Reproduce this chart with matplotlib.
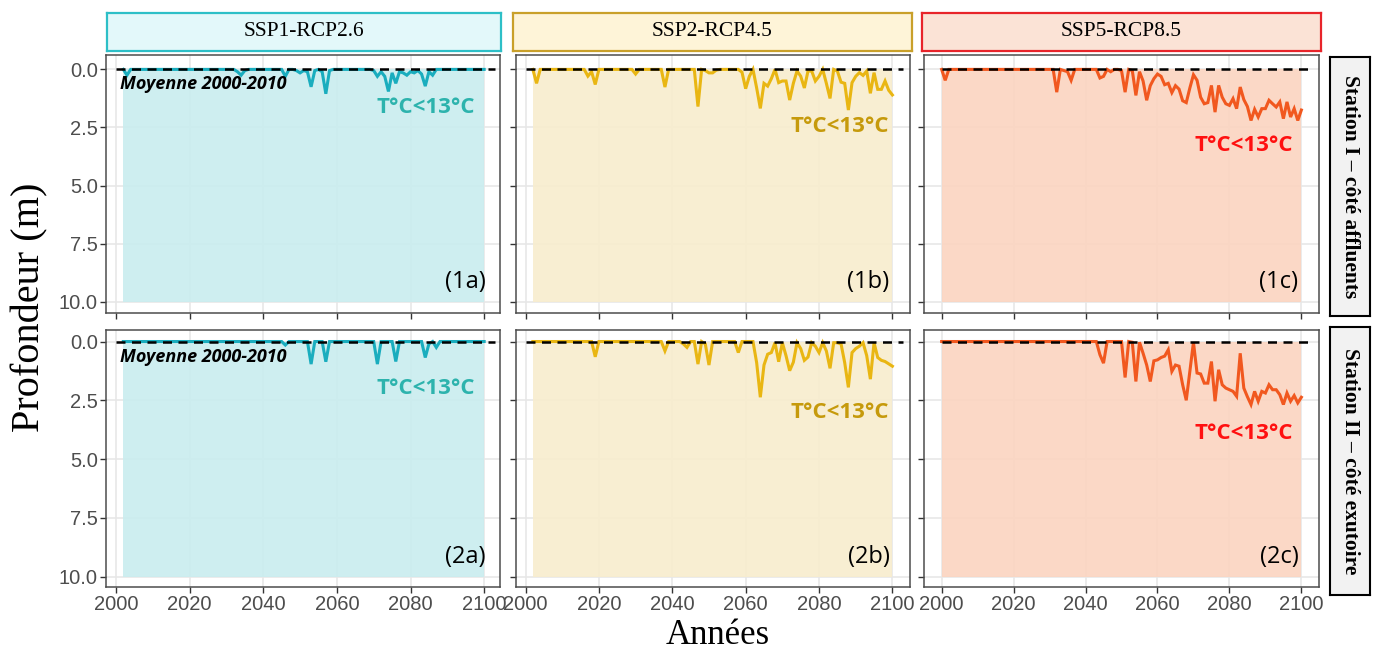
import matplotlib
matplotlib.use("Agg")
import matplotlib.pyplot as plt
import numpy as np

# ---- data (depth in m of the T<13°C layer top, per year) ----
years_a = list(range(2002, 2101))
years_b = list(range(2002, 2101))
years_c = list(range(2000, 2101))

depth_1a = [0, 0.25, 0, 0, 0, 0, 0, 0,
            0, 0, 0, 0, 0, 0, 0, 0, 0, 0,
            0, 0, 0, 0, 0, 0, 0, 0, 0, 0,
            0, 0, 0, 0.1, 0.25, 0.05, 0, 0, 0, 0,
            0, 0, 0, 0, 0, 0, 0.3, 0, 0, 0.05,
            0.15, 0.05, 0.1, 0.75, 0.05, 0, 0.1, 1.05, 0.05, 0,
            0, 0, 0, 0, 0, 0, 0, 0, 0, 0,
            0.05, 0.3, 0.1, 0.3, 0.95, 0.15, 0.6, 0.1, 0.15, 0.25,
            0.1, 0.15, 0.05, 0.2, 0.72, 0.1, 0.25, 0, 0, 0,
            0, 0, 0, 0, 0, 0, 0, 0, 0, 0,
            0]
depth_2a = [0, 0, 0, 0, 0, 0, 0, 0,
            0, 0, 0, 0, 0, 0, 0, 0, 0, 0,
            0, 0, 0, 0, 0, 0, 0, 0, 0, 0,
            0, 0, 0, 0, 0, 0, 0, 0, 0, 0,
            0, 0, 0, 0, 0, 0, 0.15, 0, 0, 0,
            0, 0, 0, 0.96, 0, 0, 0, 0.86, 0, 0,
            0, 0, 0, 0, 0, 0, 0, 0, 0, 0,
            0, 0.96, 0, 0, 0, 0, 0.85, 0, 0, 0,
            0, 0, 0, 0, 0.68, 0.1, 0, 0.25, 0, 0,
            0, 0, 0, 0, 0, 0, 0, 0, 0, 0,
            0]
depth_1b = [0, 0.6, 0, 0, 0, 0, 0, 0,
            0, 0, 0, 0, 0, 0, 0, 0.29, 0.1, 0.65,
            0, 0, 0, 0, 0, 0, 0, 0, 0, 0,
            0.2, 0, 0, 0, 0, 0, 0, 0, 0.76, 0,
            0, 0, 0, 0, 0, 0, 0, 1.6, 0, 0.05,
            0.15, 0.15, 0.03, 0, 0, 0, 0, 0, 0, 0.12,
            0.83, 0.3, 0, 0.8, 1.68, 0.6, 0.72, 0.4, 0, 0.57,
            0.5, 0.5, 1.32, 0.6, 0.07, 0.29, 0.8, 0.07, 0.07, 0.5,
            0.3, 0, 0.6, 1.25, 0, 0.07, 0.55, 0.6, 1.75, 0.57,
            0.3, 0.14, 0.26, 0.07, 1.03, 0.14, 0.86, 0.86, 0.5, 0.9,
            1.1]
depth_2b = [0, 0, 0, 0, 0, 0, 0, 0,
            0, 0, 0, 0, 0, 0, 0, 0, 0, 0.65,
            0, 0, 0, 0, 0, 0, 0, 0, 0, 0,
            0, 0, 0, 0, 0, 0, 0, 0, 0.4, 0,
            0, 0, 0, 0.1, 0.25, 0, 0, 0.96, 0, 0.1,
            1.0, 0, 0, 0, 0, 0, 0, 0, 0.47, 0,
            0, 0, 0, 0.9, 2.37, 1.0, 0.54, 0.47, 0.05, 0.86,
            0.05, 0.6, 1.24, 0.88, 0.05, 0.3, 0.8, 0.66, 0.05, 0.2,
            0.47, 0.05, 0.4, 1.14, 0.05, 0.05, 0.1, 0.9, 1.95, 0.47,
            0.3, 0.2, 0.05, 0.6, 1.6, 0.05, 0.68, 0.8, 0.85, 0.95,
            1.05]
depth_1c = [0, 0.47, 0, 0, 0, 0, 0, 0, 0, 0,
            0, 0, 0, 0, 0, 0, 0, 0, 0, 0,
            0, 0, 0, 0, 0, 0, 0, 0, 0, 0,
            0, 0, 0.98, 0, 0.05, 0.1, 0.47, 0, 0, 0,
            0, 0, 0, 0, 0.37, 0.3, 0, 0.1, 0, 0,
            0.05, 0.98, 0, 0.05, 1.12, 0.1, 0.5, 1.33, 0.7, 0.4,
            0.2, 0.3, 0.66, 0.6, 1.0, 0.7, 0.85, 1.35, 1.43, 0.8,
            0.23, 0.47, 1.2, 1.48, 1.43, 0.69, 1.84, 0.69, 1.2, 1.48,
            1.55, 1.26, 1.69, 0.76, 1.3, 1.6, 2.2, 1.72, 2.05, 1.69,
            1.69, 1.33, 1.48, 1.62, 1.4, 2.12, 1.4, 2.05, 1.69, 2.2,
            1.75]
depth_2c = [0, 0, 0, 0, 0, 0, 0, 0, 0, 0,
            0, 0, 0, 0, 0, 0, 0, 0, 0, 0,
            0, 0, 0, 0, 0, 0, 0, 0, 0, 0,
            0, 0, 0, 0, 0, 0, 0, 0, 0, 0,
            0, 0, 0, 0, 0.56, 0.92, 0, 0, 0, 0,
            0, 1.53, 0, 0.03, 1.7, 0.03, 0.5, 1.0, 1.7, 0.82,
            0.78, 0.68, 0.62, 0.35, 1.27, 1.0, 1.05, 1.84, 2.5, 1.27,
            0.03, 1.34, 1.38, 1.77, 1.77, 0.85, 2.54, 1.2, 1.84, 1.98,
            2.05, 2.12, 2.33, 0.5, 1.98, 2.35, 2.68, 2.12, 2.54, 2.12,
            2.19, 1.84, 2.05, 2.05, 2.26, 2.68, 2.19, 2.54, 2.3, 2.61,
            2.37]

scenarios = ["SSP1-RCP2.6", "SSP2-RCP4.5", "SSP5-RCP8.5"]
stations = ["Station I \u2013 côté affluents", "Station II \u2013 côté exutoire"]
panel_tags = [["(1a)", "(1b)", "(1c)"], ["(2a)", "(2b)", "(2c)"]]
series = [[(years_a, depth_1a), (years_b, depth_1b), (years_c, depth_1c)],
          [(years_a, depth_2a), (years_b, depth_2b), (years_c, depth_2c)]]
ref_depth = 0.0      # Moyenne 2000-2010
fill_bottom = 10.0

# ---- styles ----
line_cols = ["#1AADBE", "#E9B613", "#F1581F"]
fill_cols = ["#CAEDEF", "#F8EDCE", "#FBD5C1"]
txt_cols = ["#2DB3AD", "#C69A0C", "#FF1010"]
head_fill = ["#E3F8FA", "#FEF4D8", "#FBE3D6"]
head_edge = ["#2DBFC7", "#C9A02A", "#E8242A"]

W, H = 1378, 651
fig = plt.figure(figsize=(W / 100, H / 100), dpi=100)


def px_axes(x0, y0, x1, y1):
    return fig.add_axes([x0 / W, 1 - y1 / H, (x1 - x0) / W, (y1 - y0) / H])


cols_x = [(106, 500), (516, 910), (924, 1319)]
rows_y = [(55, 313), (330, 587)]
xlims = [(1997.3, 2104.3), (1997.4, 2104.8), (1995.1, 2104.9)]
ylims = [(10.49, -0.62), (10.44, -0.49)]
# label positions (depth) for "T°C<13°C"
tc_depth = [[1.65, 2.47, 3.27], [1.98, 3.0, 3.9]]
tc_x = [2097.6, 2099.0, 2097.6]

for r in range(2):
    for c in range(3):
        ax = px_axes(cols_x[c][0], rows_y[r][0], cols_x[c][1], rows_y[r][1])
        yrs, d = series[r][c]
        yrs = np.array(yrs)
        d = np.array(d)
        ax.grid(True, color="#E6E6E6", lw=1.1, zorder=0)
        ax.set_axisbelow(True)
        ax.fill_between(yrs, ref_depth, fill_bottom, color=fill_cols[c],
                        alpha=0.92, lw=0, zorder=1)
        ax.plot(yrs, d, color=line_cols[c], lw=2.2, zorder=3,
                solid_joinstyle="miter")
        ax.plot([2000, 2103], [ref_depth, ref_depth], color="black", lw=1.8,
                dashes=(3.6, 2.6), zorder=4)
        ax.set_xlim(*xlims[c])
        ax.set_ylim(*ylims[r])
        ax.set_xticks([2000, 2020, 2040, 2060, 2080, 2100])
        ax.set_yticks([0, 2.5, 5, 7.5, 10])
        ax.set_yticklabels(["0.0", "2.5", "5.0", "7.5", "10.0"])
        ax.tick_params(colors="#333333", labelcolor="#4D4D4D", length=4,
                       width=1, labelsize=14.5, pad=2)
        for lab in ax.get_xticklabels() + ax.get_yticklabels():
            lab.set_family("Liberation Sans")
        if c > 0:
            ax.tick_params(labelleft=False)
        if r == 0:
            ax.tick_params(labelbottom=False)
        for sp in ax.spines.values():
            sp.set_color("#4D4D4D")
            sp.set_linewidth(1.1)

        ax.text(tc_x[c], tc_depth[r][c], "T°C<13°C", color=txt_cols[c],
                fontsize=16, fontweight="bold", family="Open Sans",
                ha="right", va="center", zorder=5)
        ax.text(2100.3 if c == 0 else 2099.2, 9.15, panel_tags[r][c],
                fontsize=17, family="Open Sans", ha="right", va="center",
                zorder=5)
        if c == 0:
            ax.text(2001.2, 0.65, "Moyenne 2000-2010", fontsize=13,
                    fontweight="bold", style="italic", family="Open Sans",
                    ha="left", va="center", zorder=5)

# scenario headers
head_x = [(107, 501), (513, 912), (922, 1321)]
for c in range(3):
    hx = px_axes(head_x[c][0], 13, head_x[c][1], 51)
    hx.set_facecolor(head_fill[c])
    hx.set_xticks([])
    hx.set_yticks([])
    for sp in hx.spines.values():
        sp.set_color(head_edge[c])
        sp.set_linewidth(1.6)
    hx.text(0.5, 0.5, scenarios[c], ha="center", va="center",
            fontsize=15.5, family="Liberation Serif", transform=hx.transAxes)

# station strips
strip_y = [(57, 316), (327, 595)]
for r in range(2):
    sx = px_axes(1330, strip_y[r][0], 1370, strip_y[r][1])
    sx.set_facecolor("#F2F2F2")
    sx.set_xticks([])
    sx.set_yticks([])
    for sp in sx.spines.values():
        sp.set_color("black")
        sp.set_linewidth(1.5)
    sx.text(0.5, 0.5, stations[r], ha="center", va="center", rotation=-90,
            fontsize=15.5, fontweight="bold", family="Liberation Serif",
            transform=sx.transAxes)

fig.text(30 / W, 1 - 307 / H, "Profondeur (m)", rotation=90, ha="center",
         va="center", fontsize=29, family="Liberation Serif")
fig.text(718 / W, 1 - 635 / H, "Années", ha="center", va="center",
         fontsize=25, family="Liberation Serif")

fig.savefig("out.png", dpi=100)
